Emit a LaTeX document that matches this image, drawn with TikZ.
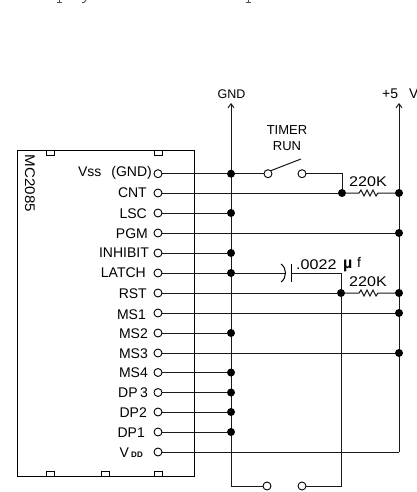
\documentclass[tikz,border=0pt]{standalone}
\usepackage{fontspec}
\setmainfont{Liberation Sans}
\usetikzlibrary{arrows.meta}
\tikzset{
  wire/.style={line width=1pt,black!90},
  pin/.style={circle,draw=black,line width=0.9pt,fill=white,inner sep=0pt,minimum size=8pt},
  dot/.style={circle,fill=black,inner sep=0pt,minimum size=8pt},
  lbl/.style={inner sep=0pt,anchor=east,font=\fontsize{14}{14}\selectfont},
  txt/.style={inner sep=0pt,font=\fontsize{14}{14}\selectfont},
  sw/.style={pin},
  rail/.style={wire,-{Straight Barb[length=4pt,width=6pt]}}
}
\begin{document}
\begin{tikzpicture}[x=1pt,y=-1pt]
\useasboundingbox (0,0) rectangle (417,492);
\clip (0,0) rectangle (417,492);
% clipped descenders of the text line above
\draw[line width=0.8pt,black!70] (59,0)--(59,2.5) (56.5,2.7)--(61.5,2.7);
\draw[line width=0.8pt,black!70] (86,0)--(84,2.5)--(82,2.7);
\draw[line width=0.8pt,black!70] (248,0)--(248,2.5) (245.5,2.7)--(250.5,2.7);
% chip
\node[draw=black,line width=1pt,minimum width=177pt,minimum height=326pt,inner sep=0pt,anchor=north west] (chip) at (17,150) {};
\foreach \x in {50,158} \draw[line width=0.9pt] (\x-4,150) rectangle (\x+4,155);
\foreach \x in {50,105.5,158} \draw[line width=0.9pt] (\x-4,476) rectangle (\x+4,471);
\node[txt,rotate=-90,xscale=1.08] (name) at (30,183.5) {MC2085};
% pins
\foreach \n/\y in {vss/173.7,cnt/193,lsc/213,pgm/233,inh/253,lat/273,rst/293,msa/313,msb/333,msc/353,msd/372.5,dpc/392.5,dpb/412,dpa/432,vdd/452}
  \node[pin] (\n) at (158,\y) {};
% pin labels
\node[lbl] (lvss) at (152,173.2) {Vss\hspace{10pt}(GND)};
\node[lbl] (lcnt) at (147,193) {CNT};
\node[lbl] (llsc) at (147,213.5) {LSC};
\node[lbl] (lpgm) at (148,233.5) {PGM};
\node[lbl] (linh) at (149,253) {INHIBIT};
\node[lbl] (llat) at (146,273) {LATCH};
\node[lbl] (lrst) at (147,293.5) {RST};
\node[lbl] (lmsa) at (146,314.5) {MS1};
\node[lbl] (lmsb) at (148,333.5) {MS2};
\node[lbl] (lmsc) at (148,353.5) {MS3};
\node[lbl] (lmsd) at (148,373) {MS4};
\node[lbl] (ldpc) at (148,393) {DP\,3};
\node[lbl] (ldpb) at (147,412.5) {DP2};
\node[lbl] (ldpa) at (145,432.5) {DP1};
\node[lbl] (lvdd) at (143,452.5) {V\,\raisebox{-0.3pt}{\fontsize{8}{8}\selectfont\bfseries DD}};
% rails
\coordinate (gndtop) at (231,103);
\coordinate (gndbot) at (231,486);
\coordinate (vcctop) at (399,103);
\coordinate (vccbot) at (399,452);
\draw[rail] (gndbot) -- (gndtop);
\draw[rail] (vccbot) -- (vcctop);
\node[txt,font=\fontsize{12.5}{12.5}\selectfont] (lgnd) at (231.5,94) {GND};
\node[txt,anchor=west] (lvcc) at (382,94) {+5\hspace{11pt}V};
% GND dots
\foreach \n in {vss,lsc,inh,lat,msb,msd,dpc,dpb,dpa}
  \path (\n -| gndtop) node[dot] (g\n) {};
% +5 dots
\foreach \n in {cnt,pgm,rst,msa,msc}
  \path (\n -| vcctop) node[dot] (v\n) {};
% short wires to GND
\foreach \n in {vss,lsc,inh,lat,msb,msd,dpc,dpb,dpa}
  \draw[wire] (\n) -- (g\n);
% wires to +5
\foreach \n in {pgm,msa,msc}
  \draw[wire] (\n) -- (v\n);
\draw[wire] (vdd) -- (vccbot);
% timer switch
\node[sw] (ta) at (268,173.7) {};
\node[sw] (tb) at (302,173.7) {};
\coordinate (lever) at (301,159);
\draw[wire] (gvss) -- (ta);
\draw[wire] (ta.north east) -- (lever);
\node[txt,align=center,font=\fontsize{13}{15.5}\selectfont] (ltimer) at (287,138) {TIMER\\RUN};
% resistors
\node[dot] (ja) at (342,193) {};
\node[dot] (jb) at (341,293) {};
\draw[wire] (cnt) -- (ja);
\draw[wire] (rst) -- (jb);
\draw[wire] (tb) -| (ja);
\foreach \j/\v/\r in {ja/vcnt/ra,jb/vrst/rb}{
  \coordinate (\r a) at (359,0 |- \j);
  \coordinate (\r b) at (378,0 |- \j);
  \draw[wire] (\j) -- (\r a) -- ++(2,-3) -- ++(3,6) -- ++(3,-6) -- ++(3,6) -- ++(3,-6) -- ++(3,6) -- (\r b) -- (\v);
}
\node[txt,xscale=1.15] (lra) at (368,182) {220K};
\node[txt,xscale=1.15] (lrb) at (368,282) {220K};
% capacitor
\coordinate (capa) at (286,273);
\coordinate (capb) at (291,273);
\draw[wire] (glat) -- (capa);
\draw[line width=1pt] (281,264) .. controls (287,268) and (287,278) .. (281,282);
\draw[line width=1pt] (291,264) -- (291,282);
\coordinate (capc) at (341,273);
\draw[wire] (capb) -- (capc) -- (jb);
\node[txt,anchor=west,xscale=1.15] (lcap) at (296,264.5) {.0022};
\node[txt,anchor=west,font=\fontsize{16}{16}\selectfont\bfseries] (lmu) at (343,266) {µ};
\node[txt,anchor=west] (lf) at (357,262.5) {f};
% bottom switch
\node[sw] (sa) at (267,486) {};
\node[sw] (sb) at (302,486) {};
\draw[wire] (gndbot) -- (sa);
\draw[wire] (sb) -| (jb);
\end{tikzpicture}
\end{document}
